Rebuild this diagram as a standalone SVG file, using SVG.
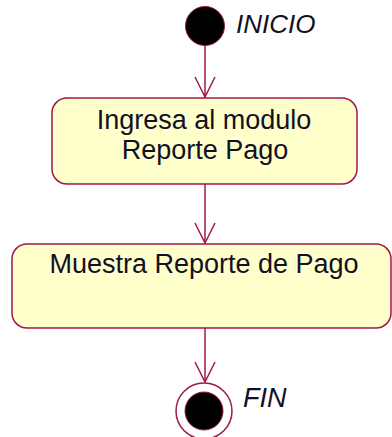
<svg xmlns="http://www.w3.org/2000/svg" width="392" height="437" viewBox="0 0 392 437">
<style>
.edge{stroke:#a01848;stroke-width:1.5;fill:none}
.act{fill:#ffffcc;stroke:#a01848;stroke-width:1.5}
.lbl{font-family:"Liberation Sans",Arial,sans-serif;font-size:27px;fill:#111122;text-anchor:middle}
.ital{font-family:"Liberation Sans",Arial,sans-serif;font-size:26px;font-style:italic;fill:#111122}
</style>
<defs>
<marker id="arr" viewBox="0 0 22 22" refX="21" refY="11" markerWidth="22" markerHeight="22" markerUnits="userSpaceOnUse" orient="auto">
<path d="M1,1 L21,11 L1,21" fill="none" stroke="#a01848" stroke-width="1.5"/>
</marker>
</defs>
<g id="connectors">
<line class="edge" x1="205" y1="46" x2="205" y2="97" marker-end="url(#arr)"/>
<line class="edge" x1="205" y1="184" x2="205" y2="243" marker-end="url(#arr)"/>
<line class="edge" x1="205" y1="328" x2="205" y2="382" marker-end="url(#arr)"/>
</g>
<g id="start">
<circle cx="205" cy="26" r="19.5" fill="#000" stroke="#a01848" stroke-width="1"/>
<text class="ital" x="236" y="33">INICIO</text>
</g>
<g id="ingresa">
<rect class="act" x="52" y="98" width="305" height="86" rx="15"/>
<text class="lbl" x="204" y="129">Ingresa al modulo</text>
<text class="lbl" x="205" y="159">Reporte Pago</text>
</g>
<g id="muestra">
<rect class="act" x="12" y="244" width="379" height="84" rx="15"/>
<text class="lbl" x="204" y="273">Muestra Reporte de Pago</text>
</g>
<g id="end">
<circle cx="204" cy="411" r="28" fill="none" stroke="#a01848" stroke-width="1.5"/>
<circle cx="204" cy="411" r="19" fill="#000" stroke="#a01848" stroke-width="1"/>
<text class="ital" x="243" y="407" style="font-size:27px">FIN</text>
</g>
</svg>
